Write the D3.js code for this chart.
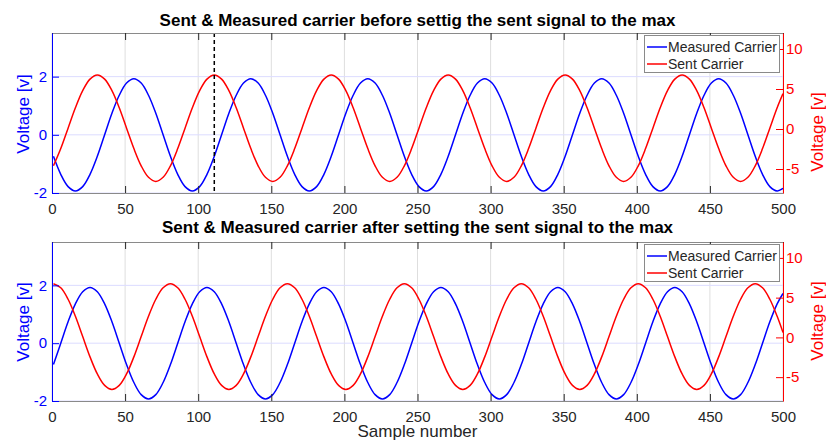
<!DOCTYPE html>
<html>
<head>
<meta charset="utf-8">
<script src="https://cdn.jsdelivr.net/npm/d3@7"></script>
<style>
  body { margin: 0; background: #fff; }
  svg { display: block; font-family: "Liberation Sans", Arial, sans-serif; }
</style>
</head>
<body>
<div id="chart"></div>
<script>
"use strict";

/* Sample numbers, read every 5 samples off the picture */
const sampleNumber = [
  1, 6, 11, 16, 21, 26, 31, 36, 41, 46, 51, 56, 61, 66, 71, 76,
  81, 86, 91, 96, 101, 106, 111, 116, 121, 126, 131, 136, 141, 146, 151, 156,
  161, 166, 171, 176, 181, 186, 191, 196, 201, 206, 211, 216, 221, 226, 231, 236,
  241, 246, 251, 256, 261, 266, 271, 276, 281, 286, 291, 296, 301, 306, 311, 316,
  321, 326, 331, 336, 341, 346, 351, 356, 361, 366, 371, 376, 381, 386, 391, 396,
  401, 406, 411, 416, 421, 426, 431, 436, 441, 446, 451, 456, 461, 466, 471, 476,
  481, 486, 491, 496, 500
];

// top panel (before), left axis
const measuredBefore = [
  -0.74, -1.36, -1.78, -1.93, -1.78, -1.36, -0.74, 0.00, 0.74, 1.36, 1.78, 1.93, 1.78, 1.36, 0.74, 0.00,
  -0.74, -1.36, -1.78, -1.93, -1.78, -1.36, -0.74, 0.00, 0.74, 1.36, 1.78, 1.93, 1.78, 1.36, 0.74, 0.00,
  -0.74, -1.36, -1.78, -1.93, -1.78, -1.36, -0.74, 0.00, 0.74, 1.36, 1.78, 1.93, 1.78, 1.36, 0.74, 0.00,
  -0.74, -1.36, -1.78, -1.93, -1.78, -1.36, -0.74, 0.00, 0.74, 1.36, 1.78, 1.93, 1.78, 1.36, 0.74, 0.00,
  -0.74, -1.36, -1.78, -1.93, -1.78, -1.36, -0.74, 0.00, 0.74, 1.36, 1.78, 1.93, 1.78, 1.36, 0.74, 0.00,
  -0.74, -1.36, -1.78, -1.93, -1.78, -1.36, -0.74, 0.00, 0.74, 1.36, 1.78, 1.93, 1.78, 1.36, 0.74, 0.00,
  -0.74, -1.36, -1.78, -1.93, -1.84
];

// top panel (before), right axis
const sentBefore = [
  -4.60, -2.45, 0.10, 2.65, 4.80, 6.24, 6.75, 6.24, 4.80, 2.65, 0.10, -2.45, -4.60, -6.04, -6.55, -6.04,
  -4.60, -2.45, 0.10, 2.65, 4.80, 6.24, 6.75, 6.24, 4.80, 2.65, 0.10, -2.45, -4.60, -6.04, -6.55, -6.04,
  -4.60, -2.45, 0.10, 2.65, 4.80, 6.24, 6.75, 6.24, 4.80, 2.65, 0.10, -2.45, -4.60, -6.04, -6.55, -6.04,
  -4.60, -2.45, 0.10, 2.65, 4.80, 6.24, 6.75, 6.24, 4.80, 2.65, 0.10, -2.45, -4.60, -6.04, -6.55, -6.04,
  -4.60, -2.45, 0.10, 2.65, 4.80, 6.24, 6.75, 6.24, 4.80, 2.65, 0.10, -2.45, -4.60, -6.04, -6.55, -6.04,
  -4.60, -2.45, 0.10, 2.65, 4.80, 6.24, 6.75, 6.24, 4.80, 2.65, 0.10, -2.45, -4.60, -6.04, -6.55, -6.04,
  -4.60, -2.45, 0.10, 2.65, 4.42
];

// bottom panel (after), left axis
const measuredAfter = [
  -0.74, 0.00, 0.74, 1.36, 1.78, 1.93, 1.78, 1.36, 0.74, 0.00, -0.74, -1.36, -1.78, -1.93, -1.78, -1.36,
  -0.74, 0.00, 0.74, 1.36, 1.78, 1.93, 1.78, 1.36, 0.74, 0.00, -0.74, -1.36, -1.78, -1.93, -1.78, -1.36,
  -0.74, 0.00, 0.74, 1.36, 1.78, 1.93, 1.78, 1.36, 0.74, 0.00, -0.74, -1.36, -1.78, -1.93, -1.78, -1.36,
  -0.74, 0.00, 0.74, 1.36, 1.78, 1.93, 1.78, 1.36, 0.74, 0.00, -0.74, -1.36, -1.78, -1.93, -1.78, -1.36,
  -0.74, 0.00, 0.74, 1.36, 1.78, 1.93, 1.78, 1.36, 0.74, 0.00, -0.74, -1.36, -1.78, -1.93, -1.78, -1.36,
  -0.74, 0.00, 0.74, 1.36, 1.78, 1.93, 1.78, 1.36, 0.74, 0.00, -0.74, -1.36, -1.78, -1.93, -1.78, -1.36,
  -0.74, 0.00, 0.74, 1.36, 1.72
];

// bottom panel (after), right axis
const sentAfter = [
  6.75, 6.24, 4.80, 2.65, 0.10, -2.45, -4.60, -6.04, -6.55, -6.04, -4.60, -2.45, 0.10, 2.65, 4.80, 6.24,
  6.75, 6.24, 4.80, 2.65, 0.10, -2.45, -4.60, -6.04, -6.55, -6.04, -4.60, -2.45, 0.10, 2.65, 4.80, 6.24,
  6.75, 6.24, 4.80, 2.65, 0.10, -2.45, -4.60, -6.04, -6.55, -6.04, -4.60, -2.45, 0.10, 2.65, 4.80, 6.24,
  6.75, 6.24, 4.80, 2.65, 0.10, -2.45, -4.60, -6.04, -6.55, -6.04, -4.60, -2.45, 0.10, 2.65, 4.80, 6.24,
  6.75, 6.24, 4.80, 2.65, 0.10, -2.45, -4.60, -6.04, -6.55, -6.04, -4.60, -2.45, 0.10, 2.65, 4.80, 6.24,
  6.75, 6.24, 4.80, 2.65, 0.10, -2.45, -4.60, -6.04, -6.55, -6.04, -4.60, -2.45, 0.10, 2.65, 4.80, 6.24,
  6.75, 6.24, 4.80, 2.65, 0.62
];

const xTicks = [0, 50, 100, 150, 200, 250, 300, 350, 400, 450, 500];
const leftTicks = [-2, 0, 2];
const rightTicks = [-5, 0, 5, 10];
const legendNames = ["Measured Carrier", "Sent Carrier"];
const markerSample = 111;   // dashed line in the top panel

const W = 826, H = 441;
const BLUE = "#0000ff", RED = "#ff0000", DARK = "#262626";

const svg = d3.select("#chart").append("svg")
  .attr("width", W)
  .attr("height", H);

const x = d3.scaleLinear().domain([0, 500]).range([52, 783]);

/* one panel = yyaxis plot with two carriers */
function drawPanel(cfg) {
  const yL = d3.scaleLinear().domain([-2, 3.5]).range([cfg.bottom, cfg.top]);
  const yR = d3.scaleLinear().domain([-8, 12]).range([cfg.bottom, cfg.top]);
  const g = svg.append("g");

  g.append("clipPath").attr("id", cfg.id)
    .append("rect")
    .attr("x", x(0)).attr("y", cfg.top)
    .attr("width", x(500) - x(0)).attr("height", cfg.bottom - cfg.top);

  // grid
  g.selectAll(".vgrid").data(xTicks).enter().append("line")
    .attr("x1", d => x(d)).attr("x2", d => x(d))
    .attr("y1", cfg.top).attr("y2", cfg.bottom)
    .attr("stroke", "#dedede").attr("stroke-width", 1);
  g.selectAll(".hgrid").data(leftTicks).enter().append("line")
    .attr("x1", x(0)).attr("x2", x(500))
    .attr("y1", d => yL(d)).attr("y2", d => yL(d))
    .attr("stroke", "#dcdcff").attr("stroke-width", 1);

  const lines = g.append("g").attr("clip-path", `url(#${cfg.id})`);
  const lineL = d3.line().x((d, i) => x(sampleNumber[i])).y(d => yL(d)).curve(d3.curveCatmullRom);
  const lineR = d3.line().x((d, i) => x(sampleNumber[i])).y(d => yR(d)).curve(d3.curveCatmullRom);

  lines.append("path").datum(cfg.measured)
    .attr("d", lineL).attr("fill", "none")
    .attr("stroke", BLUE).attr("stroke-width", 1.5);
  lines.append("path").datum(cfg.sent)
    .attr("d", lineR).attr("fill", "none")
    .attr("stroke", RED).attr("stroke-width", 1.5);

  if (cfg.marker != null) {
    g.append("line")
      .attr("x1", x(cfg.marker)).attr("x2", x(cfg.marker))
      .attr("y1", cfg.top).attr("y2", cfg.bottom)
      .attr("stroke", "#000").attr("stroke-width", 1.5)
      .attr("stroke-dasharray", "4,3");
  }

  // x axes (bottom with labels, top with ticks only)
  const xb = g.append("g").attr("transform", `translate(0,${cfg.bottom})`)
    .call(d3.axisBottom(x).tickValues(xTicks).tickSizeInner(-7).tickSizeOuter(0).tickPadding(10));
  const xt = g.append("g").attr("transform", `translate(0,${cfg.top})`)
    .call(d3.axisTop(x).tickValues(xTicks).tickSizeInner(-7).tickSizeOuter(0).tickFormat(""));
  [xb, xt].forEach(a => {
    a.select(".domain").attr("stroke", "#8a8a8a");
    a.selectAll(".tick line").attr("stroke", DARK);
    a.selectAll("text").attr("fill", DARK).style("font-size", "15px");
  });

  const yl = g.append("g").attr("transform", `translate(${x(0)},0)`)
    .call(d3.axisLeft(yL).tickValues(leftTicks).tickSizeInner(-7).tickSizeOuter(0)
      .tickPadding(5).tickFormat(d => String(d)));
  yl.select(".domain").attr("stroke", BLUE);
  yl.selectAll(".tick line").attr("stroke", BLUE);
  yl.selectAll("text").attr("fill", BLUE).style("font-size", "15px");

  const yr = g.append("g").attr("transform", `translate(${x(500)},0)`)
    .call(d3.axisRight(yR).tickValues(rightTicks).tickSizeInner(-7).tickSizeOuter(0)
      .tickPadding(3).tickFormat(d => String(d)));
  yr.select(".domain").attr("stroke", RED);
  yr.selectAll(".tick line").attr("stroke", RED);
  yr.selectAll("text").attr("fill", RED).style("font-size", "15px");

  // titles and labels
  g.append("text")
    .attr("x", (x(0) + x(500)) / 2).attr("y", cfg.titleY)
    .attr("text-anchor", "middle")
    .style("font-size", "17px").style("font-weight", "bold")
    .attr("fill", "#000")
    .text(cfg.title);

  g.append("text")
    .attr("transform", `translate(23,${cfg.leftLabelY}) rotate(-90)`)
    .attr("dy", "0.35em").attr("text-anchor", "middle")
    .style("font-size", "17px").attr("fill", BLUE)
    .text("Voltage [v]");
  g.append("text")
    .attr("transform", `translate(817,${cfg.rightLabelY}) rotate(-90)`)
    .attr("dy", "0.35em").attr("text-anchor", "middle")
    .style("font-size", "17px").attr("fill", RED)
    .text("Voltage [v]");

  // legend
  const lg = g.append("g").attr("transform", `translate(644,${cfg.top + 2})`);
  lg.append("rect")
    .attr("x", 0.5).attr("y", 0.5).attr("width", 135).attr("height", 37)
    .attr("fill", "#fff").attr("stroke", "#8a8a8a").attr("stroke-width", 1);
  legendNames.forEach((name, i) => {
    const cy = 12 + i * 17;
    lg.append("line")
      .attr("x1", 3).attr("x2", 23).attr("y1", cy).attr("y2", cy)
      .attr("stroke", i === 0 ? BLUE : RED).attr("stroke-width", 1.5);
    lg.append("text")
      .attr("x", 24).attr("y", cy).attr("dy", "0.35em")
      .style("font-size", "14px").attr("fill", DARK)
      .text(name);
  });
}

drawPanel({
  id: "clipTop", top: 33, bottom: 193, titleY: 26,
  title: "Sent & Measured carrier before settig the sent signal to the max",
  measured: measuredBefore, sent: sentBefore, marker: markerSample,
  leftLabelY: 114, rightLabelY: 132
});

drawPanel({
  id: "clipBottom", top: 242, bottom: 401, titleY: 233,
  title: "Sent & Measured carrier after setting the sent signal to the max",
  measured: measuredAfter, sent: sentAfter, marker: null,
  leftLabelY: 322, rightLabelY: 321
});

svg.append("text")
  .attr("x", (x(0) + x(500)) / 2).attr("y", 437)
  .attr("text-anchor", "middle")
  .style("font-size", "17px").attr("fill", DARK)
  .text("Sample number");
</script>
</body>
</html>
